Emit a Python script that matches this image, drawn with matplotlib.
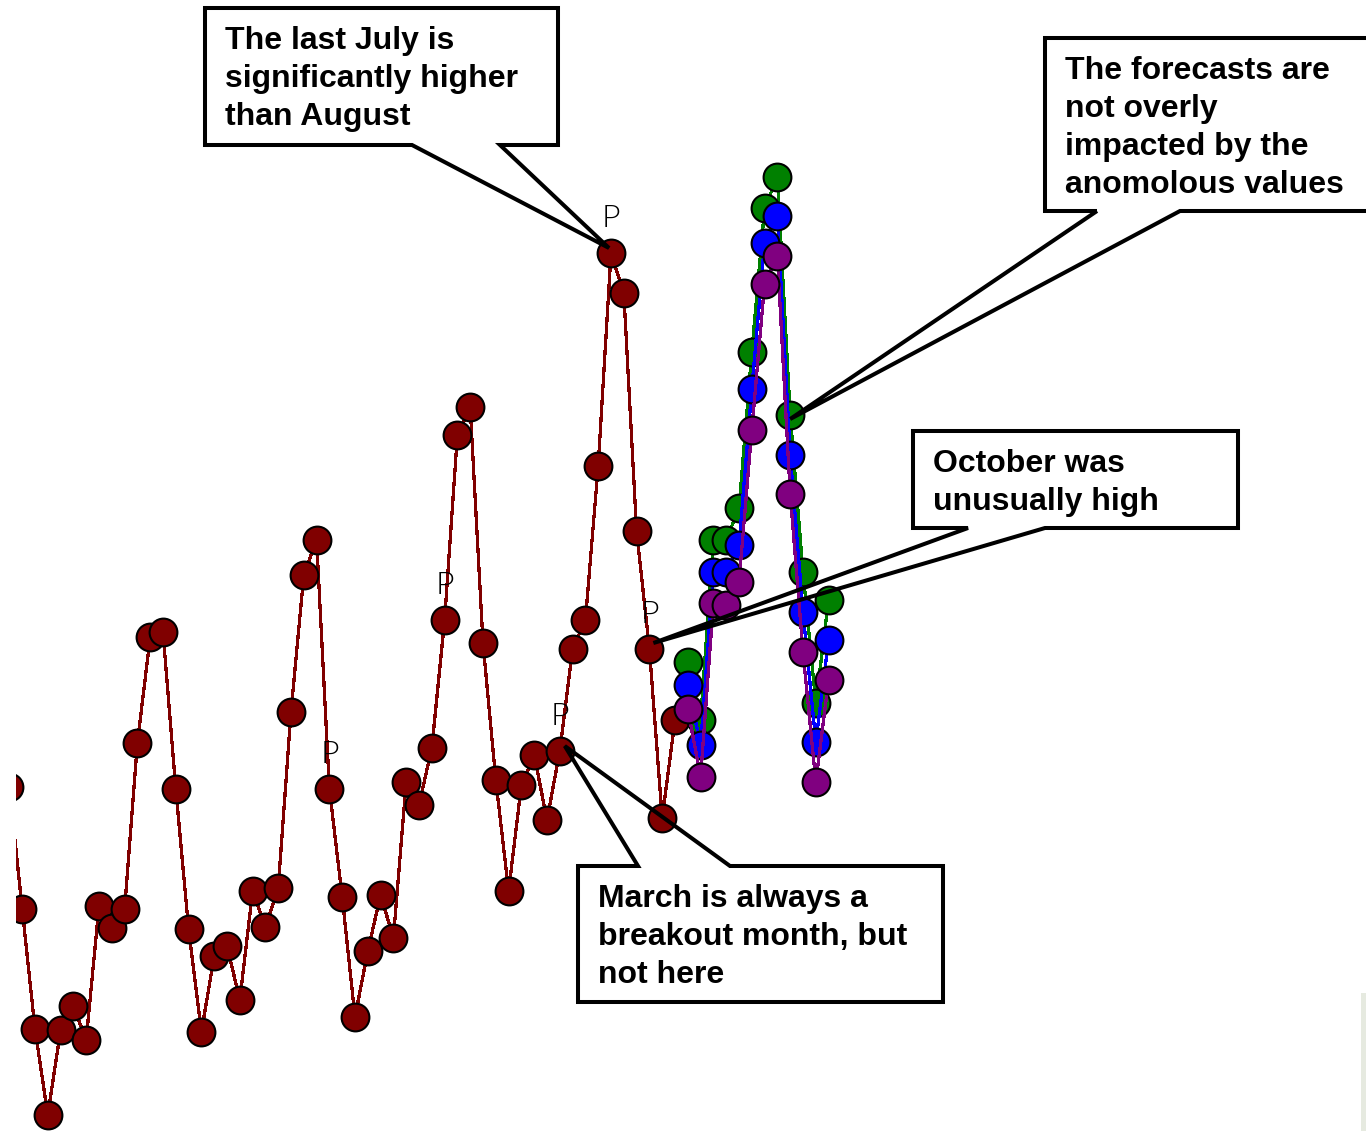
import matplotlib
matplotlib.use("Agg")
import matplotlib.pyplot as plt
from matplotlib.patches import Rectangle, Polygon
import numpy as np

W, H = 1366, 1131

# monthly history, Aug of year 0 through Dec of year 4 (no axis in the original, arbitrary units)
history = [34.4, 22.2, 10.2, 1.6, 10.1, 12.5, 9.1, 22.5, 20.3, 22.2,
           38.8, 49.4, 49.9, 34.2, 20.2, 9.9, 17.5, 18.5, 13.1, 24.0,
           20.4, 24.3, 41.9, 55.6, 59.1, 34.2, 23.4, 11.4, 18.0, 23.6,
           19.3, 34.9, 32.6, 38.3, 51.1, 69.6, 72.4, 48.8, 35.1, 24.0,
           34.6, 37.6, 31.1, 38.0, 48.2, 51.1, 66.5, 87.8, 83.8, 60.0,
           48.2, 31.3, 41.1]

# three forecasts for the next twelve months (Jan..Dec of year 5)
forecast_high = [46.9, 41.1, 59.1, 59.1, 62.3, 77.9, 92.3, 95.4, 71.6, 55.9, 42.8, 53.1]
forecast_mid = [44.6, 38.6, 55.9, 55.9, 58.6, 74.2, 88.8, 91.5, 67.6, 51.9, 38.9, 49.1]
forecast_low = [42.2, 35.4, 52.8, 52.6, 54.9, 70.1, 84.7, 87.5, 63.7, 47.9, 34.9, 45.1]

# months flagged with a "P"
flagged = [25, 34, 43, 47, 50]

hist_x = np.arange(len(history))
fc_x = np.arange(len(history), len(history) + len(forecast_mid))

fig = plt.figure(figsize=(W / 100, H / 100), dpi=100)
ax = fig.add_axes([16 / W, 0, (W - 16) / W, 1])
ax.axis('off')
ax.set_xlim((16 - 9.4) / 12.8, (W - 9.4) / 12.8)
ax.set_ylim(0, 113.1)

marker_style = dict(marker='o', ms=20, mec='black', mew=1.5, lw=1.6, antialiased=False)
ax.plot(hist_x, history, color='#800000', mfc='#800000', zorder=2, **marker_style)
ax.plot(fc_x, forecast_high, color='#008000', mfc='#008000', zorder=3, **marker_style)
ax.plot(fc_x, forecast_mid, color='#0000ff', mfc='#0000ff', zorder=4, **marker_style)
ax.plot(fc_x, forecast_low, color='#800080', mfc='#800080', zorder=5, **marker_style)

for i in flagged:
    ax.annotate('P', (i, history[i]), xytext=(0, 26), textcoords='offset pixels',
                ha='center', va='baseline', fontsize=23, family='Lato', fontweight=300,
                color='black')


def fp(x, y):
    return (x / W, 1 - y / H)


def tip_of(x, y, dx=0, dy=0):
    px, py = ax.transData.transform((x, y))
    return ((px + dx) / W, (py - dy) / H)


# callout bubbles: text, box (left, top, right, bottom) in pixels, tail joints, side, target
callouts = [
    (["The last July is", "significantly higher", "than August"],
     (205, 8, 558, 145), (412, 500), 'bottom', tip_of(hist_x[47], history[47], -2, -5)),
    (["The forecasts are", "not overly", "impacted by the", "anomolous values"],
     (1045, 38, 1400, 211), (1097, 1180), 'bottom', tip_of(fc_x[8], forecast_high[8], 0, 4)),
    (["October was", "unusually high"],
     (913, 431, 1238, 528), (968, 1045), 'bottom', tip_of(hist_x[50], history[50], 4, -6)),
    (["March is always a", "breakout month, but", "not here"],
     (578, 866, 943, 1002), (638, 730), 'top', tip_of(hist_x[43], history[43], 5, -5)),
]

for lines, (l, t, r, b), (j1, j2), side, tip in callouts:
    fig.patches.append(Rectangle(fp(l, b), (r - l) / W, (b - t) / H, transform=fig.transFigure,
                                 facecolor='white', edgecolor='none', zorder=6))
    if side == 'bottom':
        pts = [fp(j1, b), fp(l, b), fp(l, t), fp(r, t), fp(r, b), fp(j2, b), tip]
    else:
        pts = [fp(j1, t), fp(l, t), fp(l, b), fp(r, b), fp(r, t), fp(j2, t), tip]
    fig.patches.append(Polygon(pts, closed=True, fill=False, edgecolor='black', lw=2.9,
                               joinstyle='miter', transform=fig.transFigure, zorder=7))
    for k, line in enumerate(lines):
        fig.text(*fp(l + 20, t + 41 + 38 * k), line, fontsize=23, fontweight='bold',
                 family='Liberation Sans', ha='left', va='baseline', zorder=8)

# thin grey strip at the lower right edge
fig.patches.append(Rectangle(fp(1361, 1131), 5 / W, (1131 - 993) / H, transform=fig.transFigure,
                             facecolor='#e6eae0', edgecolor='none', zorder=1))

fig.savefig('out.png', dpi=100)
